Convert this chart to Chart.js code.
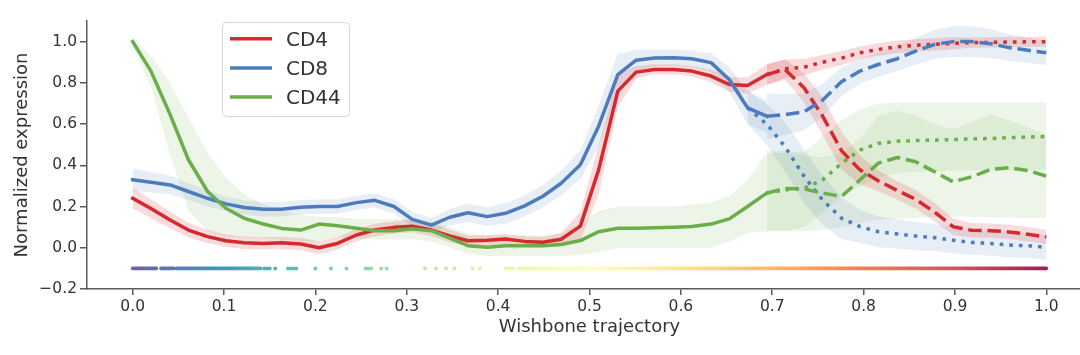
<!DOCTYPE html>
<html><head><meta charset="utf-8">
<script src="https://cdn.jsdelivr.net/npm/chart.js@4.4.1/dist/chart.umd.min.js"></script>
<style>
html,body{margin:0;padding:0;background:#fff;overflow:hidden;}
#wrap{width:1080px;height:355px;overflow:hidden;position:relative;background:#fff;}
canvas{display:block;}
</style></head><body>
<div id="wrap"><canvas id="c" width="1096" height="355"></canvas></div>
<script>
// ---------- data ----------
const seriesNames = ['CD4', 'CD8', 'CD44'];
const xTicks = [0.0, 0.1, 0.2, 0.3, 0.4, 0.5, 0.6, 0.7, 0.8, 0.9, 1.0];
const xTickLabels = ['0.0','0.1','0.2','0.3','0.4','0.5','0.6','0.7','0.8','0.9','1.0'];
const yTicks = [-0.2, 0.0, 0.2, 0.4, 0.6, 0.8, 1.0];
const yTickLabels = ['\u22120.2','0.0','0.2','0.4','0.6','0.8','1.0'];

const trunkX = [0.000,0.020,0.041,0.061,0.082,0.102,0.122,0.143,0.163,0.184,0.204,0.224,0.245,0.265,0.286,0.306,0.327,0.347,0.367,0.388,0.408,0.429,0.449,0.469,0.490,0.510,0.531,0.551,0.571,0.592,0.612,0.633,0.653,0.673,0.694];
const branchX = [0.694,0.714,0.735,0.755,0.776,0.796,0.816,0.837,0.857,0.878,0.898,0.918,0.939,0.959,0.980,1.000];
const earlyBranchX = [0.673,0.694,0.714,0.735,0.755,0.776,0.796,0.816,0.837,0.857,0.878,0.898,0.918,0.939,0.959,0.980,1.000];

const cd4Trunk  = [0.24,0.19,0.135,0.086,0.054,0.034,0.024,0.021,0.024,0.018,0.0,0.021,0.062,0.086,0.099,0.105,0.086,0.057,0.034,0.037,0.042,0.031,0.027,0.041,0.105,0.378,0.76,0.852,0.865,0.865,0.857,0.833,0.792,0.787,0.84];
const cd4Dotted = [0.84,0.868,0.876,0.90,0.92,0.946,0.962,0.975,0.982,0.987,0.992,0.995,0.996,0.998,0.999,1.0];
const cd4Dashed = [0.84,0.865,0.775,0.64,0.47,0.378,0.325,0.278,0.235,0.172,0.102,0.085,0.083,0.077,0.066,0.052];

const cd8Trunk  = [0.33,0.318,0.305,0.273,0.24,0.213,0.195,0.187,0.187,0.197,0.2,0.2,0.219,0.23,0.2,0.138,0.11,0.148,0.17,0.151,0.167,0.203,0.25,0.313,0.403,0.59,0.84,0.91,0.92,0.922,0.917,0.898,0.816,0.679,0.638];
const cd8Dashed = [0.638,0.646,0.66,0.716,0.806,0.857,0.889,0.917,0.954,0.987,1.0,1.0,0.99,0.971,0.958,0.946];
const cd8Dotted = [0.679,0.6,0.49,0.346,0.232,0.143,0.103,0.078,0.067,0.057,0.049,0.037,0.026,0.021,0.013,0.01,0.002];

const cd44Trunk  = [1.0,0.857,0.646,0.427,0.273,0.192,0.143,0.115,0.094,0.086,0.115,0.107,0.095,0.083,0.083,0.092,0.083,0.047,0.01,0.003,0.01,0.01,0.01,0.016,0.035,0.078,0.095,0.095,0.097,0.1,0.103,0.115,0.14,0.2,0.265];
const cd44Dotted = [0.265,0.281,0.288,0.329,0.41,0.474,0.506,0.517,0.52,0.522,0.525,0.528,0.53,0.534,0.537,0.54];
const cd44Dashed = [0.265,0.288,0.285,0.265,0.249,0.329,0.41,0.438,0.417,0.368,0.32,0.344,0.38,0.388,0.374,0.348];

// confidence bands (half widths, or explicit bounds)
const cd4TrunkHW  = [0.05,0.045,0.04,0.035,0.032,0.03,0.03,0.03,0.03,0.03,0.03,0.03,0.03,0.03,0.03,0.03,0.03,0.03,0.025,0.025,0.025,0.025,0.025,0.03,0.07,0.12,0.08,0.03,0.025,0.025,0.025,0.03,0.035,0.04,0.05];
const cd4DottedHW = [0.05,0.045,0.04,0.035,0.035,0.03,0.03,0.03,0.03,0.03,0.03,0.025,0.025,0.025,0.025,0.025];
const cd4DashedHW = [0.05,0.05,0.07,0.09,0.09,0.07,0.05,0.045,0.045,0.045,0.04,0.035,0.035,0.035,0.035,0.035];
const cd8TrunkHW  = [0.055,0.05,0.045,0.04,0.04,0.035,0.035,0.035,0.035,0.035,0.035,0.035,0.035,0.035,0.035,0.035,0.035,0.04,0.045,0.045,0.05,0.05,0.055,0.06,0.07,0.1,0.1,0.05,0.04,0.04,0.04,0.045,0.06,0.08,0.08];
const cd8DashedHW = [0.11,0.1,0.09,0.08,0.07,0.06,0.06,0.06,0.065,0.07,0.075,0.075,0.07,0.065,0.06,0.06];
const cd8DottedHW = [0.08,0.1,0.12,0.13,0.12,0.1,0.08,0.075,0.07,0.07,0.065,0.065,0.06,0.06,0.06,0.06,0.06];
const cd44TrunkHi = [1.02,0.93,0.8,0.63,0.46,0.34,0.26,0.21,0.18,0.16,0.15,0.15,0.14,0.14,0.14,0.14,0.13,0.1,0.07,0.06,0.06,0.06,0.06,0.07,0.12,0.18,0.2,0.2,0.2,0.2,0.21,0.22,0.25,0.33,0.46];
const cd44TrunkLo = [0.98,0.78,0.45,0.18,0.08,0.055,0.05,0.045,0.04,0.03,0.03,0.05,0.05,0.04,0.04,0.04,0.03,0.0,-0.03,-0.04,-0.04,-0.04,-0.04,-0.04,-0.035,-0.02,0.0,0.0,0.0,0.0,0.0,0.0,0.03,0.07,0.08];
const cd44DottedHi = [0.47,0.47,0.465,0.54,0.62,0.67,0.70,0.705,0.705,0.705,0.705,0.705,0.705,0.705,0.705,0.705];
const cd44DottedLo = [0.08,0.08,0.1,0.17,0.25,0.3,0.34,0.36,0.37,0.37,0.375,0.375,0.375,0.375,0.375,0.377];
const cd44DashedHi = [0.46,0.46,0.45,0.44,0.46,0.53,0.64,0.665,0.64,0.6,0.575,0.61,0.645,0.62,0.585,0.548];
const cd44DashedLo = [0.08,0.08,0.08,0.085,0.1,0.12,0.135,0.14,0.145,0.15,0.152,0.15,0.148,0.146,0.145,0.144];

// cells along the trajectory (drawn at y = cellY)
const cellY = -0.1;
const cellRuns = [[0.0,0.026],[0.031,0.045],[0.048,0.140],[0.408,0.416],[0.422,1.0]];
const cellDots = [0.144,0.147,0.150,0.156,0.170,0.173,0.176,0.179,0.200,0.217,0.234,0.255,0.258,0.261,0.272,0.278,0.320,0.332,0.343,0.352,0.372,0.380];

// ---------- styling ----------
const COLORS = ['#d42a2d', '#4c7cbd', '#69ae48'];
const BANDS = ['rgba(212,42,45,0.17)', 'rgba(76,124,189,0.13)', 'rgba(105,174,72,0.12)'];
const spectralR = ['#5e4fa2','#3288bd','#66c2a5','#abdda4','#e6f598','#ffffbf','#fee08b','#fdae61','#f46d43','#d53e4f','#9e0142'];
const FONT = 'DejaVu Sans';
const TXT = '#333333';
const AX = '#5a5a5a';
const LW = 3.5;
const DASH = [13.5, 5.8];
const DOT = [3.6, 6.0];

function hexToRgb(h){ return [parseInt(h.slice(1,3),16), parseInt(h.slice(3,5),16), parseInt(h.slice(5,7),16)]; }
function spectral(t){
  t = Math.max(0, Math.min(1, t));
  const p = t * (spectralR.length - 1);
  const i = Math.min(Math.floor(p), spectralR.length - 2);
  const f = p - i;
  const a = hexToRgb(spectralR[i]), b = hexToRgb(spectralR[i+1]);
  const c = a.map((v,k) => Math.round(v + (b[k]-v)*f));
  return 'rgba(' + c[0] + ',' + c[1] + ',' + c[2] + ',0.9)';
}
let gradCache = null;
function cellGradient(context){
  const chart = context.chart;
  if (!chart.chartArea) return spectral(0.5);
  const xs = chart.scales.x;
  const x0 = xs.getPixelForValue(0), x1 = xs.getPixelForValue(1);
  const key = x0 + '_' + x1;
  if (gradCache && gradCache.key === key) return gradCache.g;
  const g = chart.ctx.createLinearGradient(x0, 0, x1, 0);
  for (let i = 0; i < spectralR.length; i++) g.addColorStop(i/(spectralR.length-1), spectral(i/(spectralR.length-1)));
  gradCache = {key, g};
  return g;
}

function pts(xs, ys){ return xs.map((x,i) => ({x: x, y: ys[i]})); }
function plus(ys, hw){ return ys.map((v,i) => v + hw[i]); }
function minus(ys, hw){ return ys.map((v,i) => v - hw[i]); }

const datasets = [];
function addLine(xs, ys, ci, dash, order){
  datasets.push({data: pts(xs, ys), borderColor: COLORS[ci], borderWidth: LW, borderDash: dash,
    borderCapStyle: dash.length ? 'butt' : 'square', borderJoinStyle: 'round',
    pointRadius: 0, fill: false, tension: 0, order: order});
}
function addBand(xs, hi, lo, ci){
  datasets.push({data: pts(xs, hi), borderWidth: 0, pointRadius: 0, fill: '+1', backgroundColor: BANDS[ci], tension: 0, order: 20});
  datasets.push({data: pts(xs, lo), borderWidth: 0, pointRadius: 0, fill: false, tension: 0, order: 20});
}

// lines (CD44 on top)
addLine(trunkX, cd44Trunk, 2, [], 1);
addLine(branchX, cd44Dotted, 2, DOT, 1);
addLine(branchX, cd44Dashed, 2, DASH, 1);
addLine(trunkX, cd8Trunk, 1, [], 2);
addLine(branchX, cd8Dashed, 1, DASH, 2);
addLine(earlyBranchX, cd8Dotted, 1, DOT, 2);
addLine(trunkX, cd4Trunk, 0, [], 3);
addLine(branchX, cd4Dotted, 0, DOT, 3);
addLine(branchX, cd4Dashed, 0, DASH, 3);

// bands
addBand(trunkX, plus(cd4Trunk, cd4TrunkHW), minus(cd4Trunk, cd4TrunkHW), 0);
addBand(branchX, plus(cd4Dotted, cd4DottedHW), minus(cd4Dotted, cd4DottedHW), 0);
addBand(branchX, plus(cd4Dashed, cd4DashedHW), minus(cd4Dashed, cd4DashedHW), 0);
addBand(trunkX, plus(cd8Trunk, cd8TrunkHW), minus(cd8Trunk, cd8TrunkHW), 1);
addBand(branchX, plus(cd8Dashed, cd8DashedHW), minus(cd8Dashed, cd8DashedHW), 1);
addBand(earlyBranchX, plus(cd8Dotted, cd8DottedHW), minus(cd8Dotted, cd8DottedHW), 1);
addBand(trunkX, cd44TrunkHi, cd44TrunkLo, 2);
addBand(branchX, cd44DottedHi, cd44DottedLo, 2);
addBand(branchX, cd44DashedHi, cd44DashedLo, 2);

// cells
cellRuns.forEach(r => {
  datasets.push({data: [{x: r[0], y: cellY}, {x: r[1], y: cellY}], borderColor: cellGradient, borderWidth: 3.6,
    borderCapStyle: 'round', pointRadius: 0, fill: false, order: 10});
});
datasets.push({data: cellDots.map(x => ({x: x, y: cellY})), showLine: false, pointRadius: 2, pointBorderWidth: 0,
  pointBackgroundColor: c => spectral(c.raw ? c.raw.x : 0.5), order: 10});

// matplotlib-like legend
const legendPlugin = {
  id: 'mplLegend',
  afterDraw(chart){
    const ctx = chart.ctx;
    const bx = 222.5, by = 22.5, bw = 127, bh = 94, r = 4;
    ctx.save();
    ctx.beginPath();
    ctx.moveTo(bx + r, by);
    ctx.arcTo(bx + bw, by, bx + bw, by + bh, r);
    ctx.arcTo(bx + bw, by + bh, bx, by + bh, r);
    ctx.arcTo(bx, by + bh, bx, by, r);
    ctx.arcTo(bx, by, bx + bw, by, r);
    ctx.closePath();
    ctx.fillStyle = 'rgba(255,255,255,0.85)';
    ctx.fill();
    ctx.strokeStyle = '#d6d6d6';
    ctx.lineWidth = 1;
    ctx.stroke();
    const rows = [38.7, 68, 97];
    ctx.font = '20px "' + FONT + '"';
    ctx.textBaseline = 'alphabetic';
    ctx.textAlign = 'left';
    seriesNames.forEach((name, i) => {
      const y = rows[i];
      ctx.beginPath();
      ctx.moveTo(230, y); ctx.lineTo(272, y);
      ctx.strokeStyle = COLORS[i]; ctx.lineWidth = 3.5; ctx.lineCap = 'butt';
      ctx.stroke();
      ctx.fillStyle = TXT;
      ctx.fillText(name, 286, y + 7.2);
    });
    ctx.restore();
  }
};

Chart.defaults.font.family = FONT;
new Chart(document.getElementById('c'), {
  type: 'line',
  data: {datasets: datasets},
  plugins: [legendPlugin],
  options: {
    responsive: false, animation: false, devicePixelRatio: 1,
    layout: {padding: {top: 21, left: 0, right: 0, bottom: 0}},
    plugins: {legend: {display: false}, tooltip: {enabled: false}},
    elements: {point: {radius: 0}},
    scales: {
      x: {
        type: 'linear', min: -0.05, max: 1.05,
        afterBuildTicks: s => { s.ticks = xTicks.map(v => ({value: v})); },
        afterFit: s => { s.height = 66; },
        ticks: {font: {family: FONT, size: 15.5}, color: TXT, padding: 3, maxRotation: 0, autoSkip: false,
          callback: (v, i) => xTickLabels[i]},
        grid: {display: true, drawOnChartArea: false, drawTicks: true, tickLength: 6, color: AX, lineWidth: 1.5},
        border: {display: true, color: AX, width: 1.5},
        title: {display: true, text: 'Wishbone trajectory', color: TXT, font: {family: FONT, size: 18}, padding: {top: 0, bottom: 17}}
      },
      y: {
        type: 'linear', min: -0.2, max: 1.1,
        afterBuildTicks: s => { s.ticks = yTicks.map(v => ({value: v})); },
        afterFit: s => { s.width = 87; },
        ticks: {font: {family: FONT, size: 15.5}, color: TXT, padding: 3, autoSkip: false,
          callback: (v, i) => yTickLabels[i]},
        grid: {display: true, drawOnChartArea: false, drawTicks: true, tickLength: 7, color: AX, lineWidth: 1.5},
        border: {display: true, color: AX, width: 1.5},
        title: {display: true, text: 'Normalized expression', color: TXT, font: {family: FONT, size: 18}, padding: {top: 12, bottom: 0}}
      }
    }
  }
});
</script>
</body></html>
